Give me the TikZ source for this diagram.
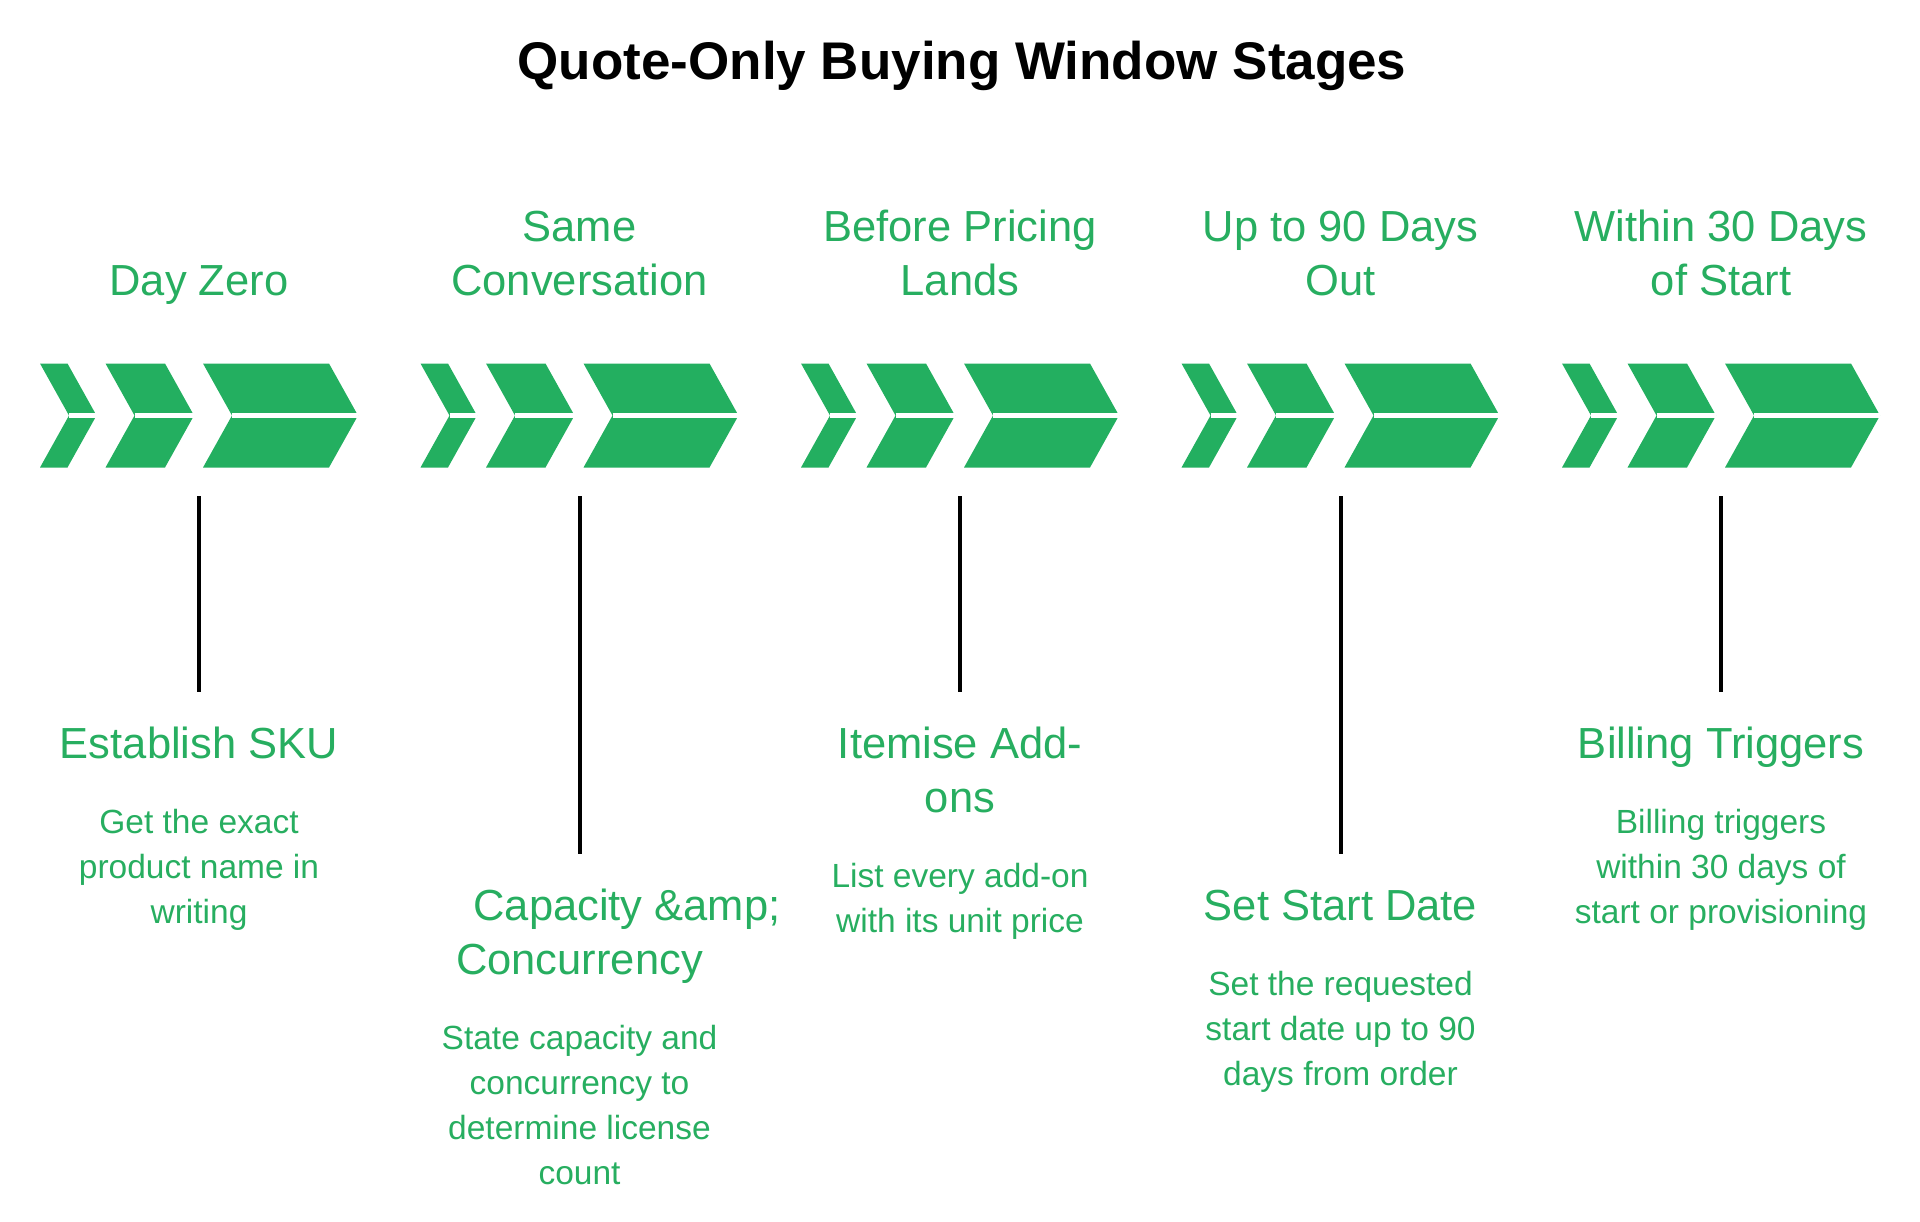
\documentclass[tikz,border=0pt]{standalone}
\usepackage{fontspec}
\setmainfont{Liberation Sans}
\usepackage{tikz}
\usetikzlibrary{positioning, calc}
\definecolor{stagegreen}{HTML}{27AE60}
\definecolor{chevgreen}{HTML}{23AF60}

\begin{document}
\begin{tikzpicture}[x=0.5pt, y=-0.5pt]
  \tikzset{stage head/.style={inner sep=0pt,
      anchor=base,
      align=center,
      text=stagegreen,
      font=\fontsize{21.75}{27}\selectfont},
    stage text/.style={inner sep=0pt,
      anchor=base,
      align=center,
      text=stagegreen,
      font=\fontsize{16.75}{22.5}\selectfont},
    chevron/.style={fill=chevgreen},
    stem/.style={line width=2pt, black}
  }
  \useasboundingbox (0,0) rectangle (1920,1221);
  \node [anchor=base, inner sep=0pt, font=\bfseries\fontsize{26.5}{32}\selectfont] (T) at (962,79) {Quote-Only Buying Window Stages};

  \foreach \i/\c/\ly/\n/\k/\head/\name/\desc in {
      1/199/692/1/3/{Day Zero}/{Establish SKU}/{Get the exact\\product name in\\writing},
      2/579.5/854/2/4/{Same\\Conversation}/{\hspace*{47.5pt}Capacity \&amp;\\Concurrency}/{State capacity and\\concurrency to\\determine license\\count},
      3/960/692/2/2/{Before Pricing\\Lands}/{Itemise Add-\\ons}/{List every add-on\\with its unit price},
      4/1340.5/854/1/3/{Up to 90 Days\\Out}/{Set Start Date}/{Set the requested\\start date up to 90\\days from order},
      5/1721/692/1/3/{Within 30 Days\\of Start}/{Billing Triggers}/{Billing triggers\\within 30 days of\\start or provisioning}}{
    \pgfmathsetmacro{\ty}{\ly+66+54*(\n-1)}
    \pgfmathsetmacro{\dy}{\ty+75+45*(\k-1)}
    \node [stage head] (head-\i) at (\c,295) {\head};
    \foreach \l/\w in {-159/27.5, -93.5/59.5, 4/126}{
      \fill [chevron] (\c+\l,363.5) -- ++(\w,0) -- ++(29,52) -- ++(-29,52) -- ++(-\w,0) -- ++(29,-52) -- cycle;
      \draw [white, line width=2.5pt] (\c+\l+29,415.5) -- ++(\w,0);
    }
    \coordinate (top-\i) at (\c,496);
    \coordinate (bot-\i) at (\c,\ly);
    \draw [stem] (top-\i) -- (bot-\i);
    \node [stage head] (name-\i) at (\c,\ty) {\name};
    \node [stage text] (desc-\i) at (\c,\dy) {\desc};
  }
\end{tikzpicture}
\end{document}
